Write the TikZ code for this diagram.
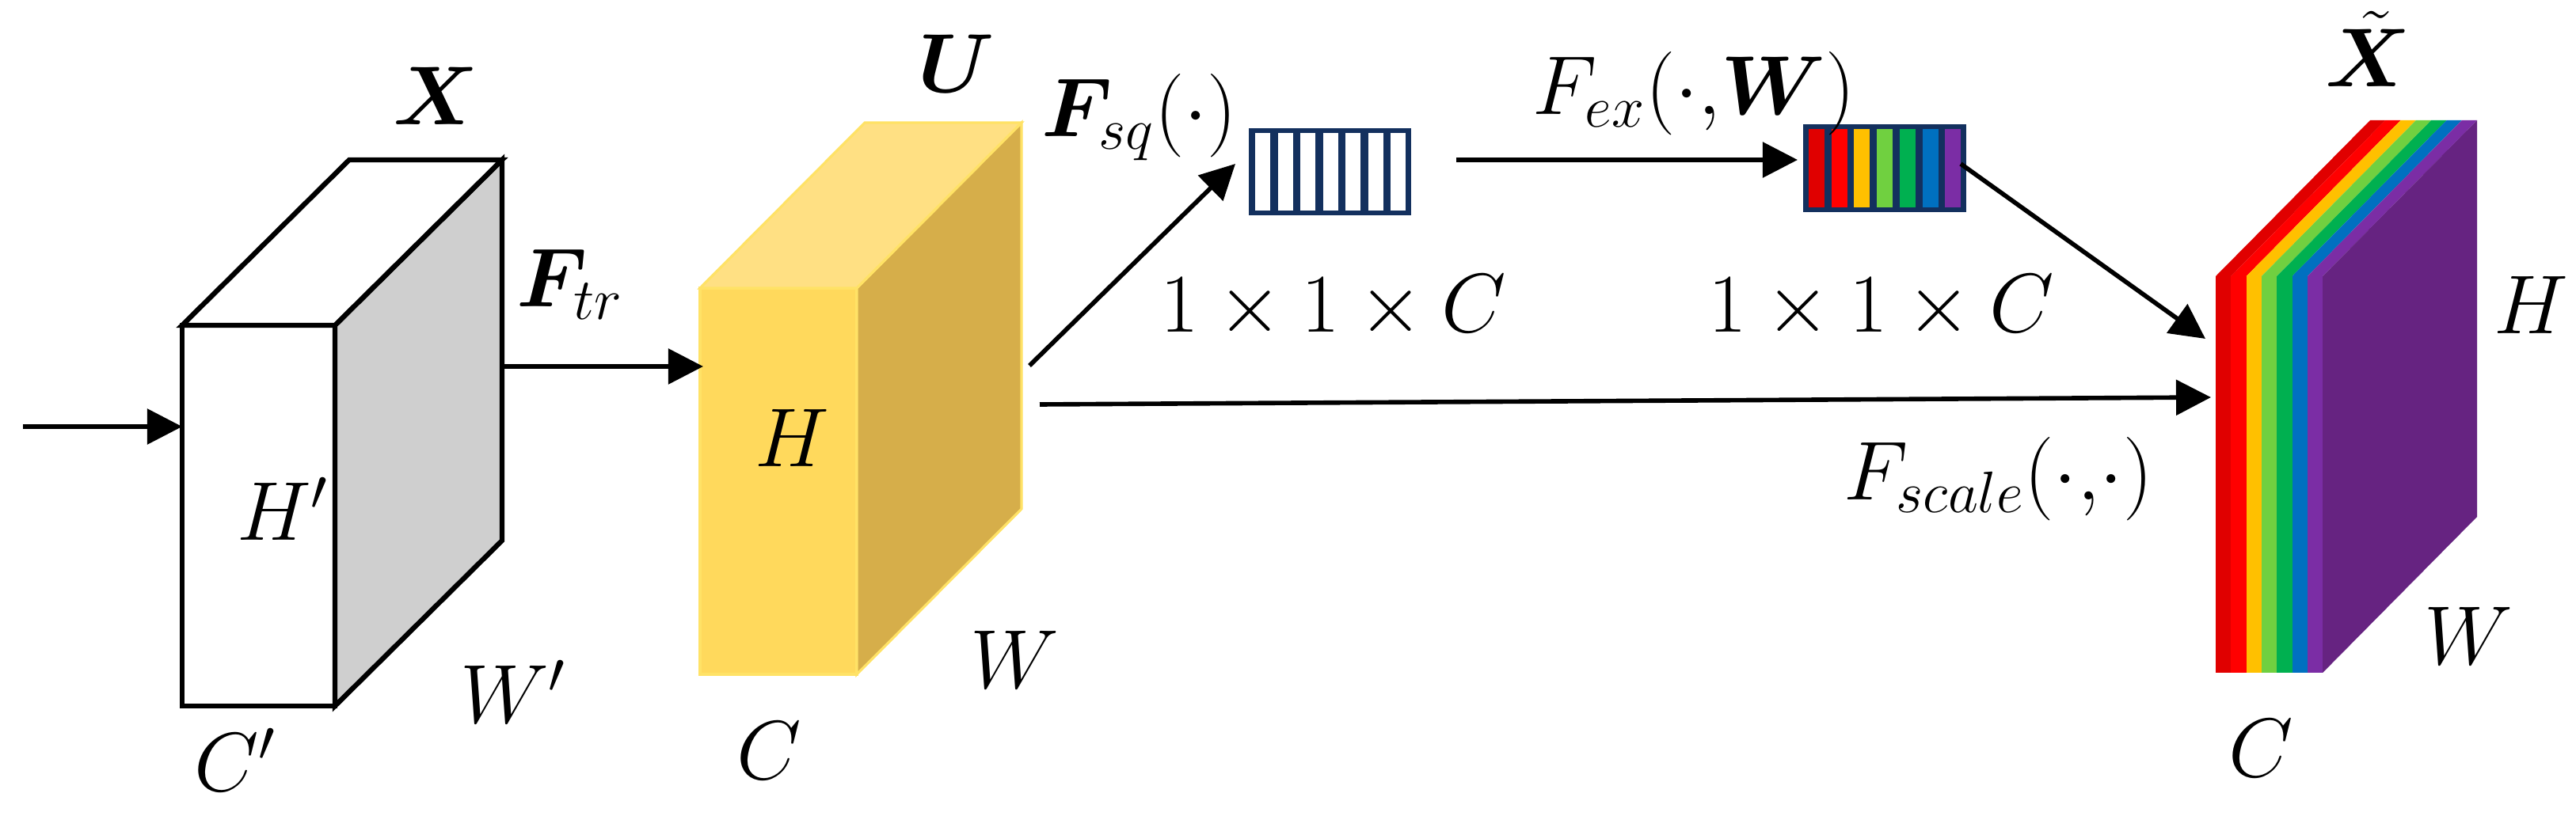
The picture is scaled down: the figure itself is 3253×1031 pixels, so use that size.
\RequirePackage{fix-cm}
\documentclass[tikz,border=0pt]{standalone}
\usepackage{amsmath,bm}
\usetikzlibrary{arrows.meta}
\definecolor{navybox}{HTML}{13305E}
\definecolor{greyside}{HTML}{CFCFCF}
\definecolor{ufront}{HTML}{FFD95C}
\definecolor{utop}{HTML}{FFE083}
\definecolor{uside}{HTML}{D6AE4A}
\definecolor{uedge}{HTML}{FFE266}
\definecolor{sdred}{HTML}{E00000}
\definecolor{sred}{HTML}{FF0000}
\definecolor{syellow}{HTML}{FFC000}
\definecolor{slgreen}{HTML}{70D040}
\definecolor{sgreen}{HTML}{00B050}
\definecolor{sblue}{HTML}{0070C0}
\definecolor{spurple}{HTML}{7B2DA5}
\definecolor{spurpleside}{HTML}{662381}
\begin{document}
\begin{tikzpicture}[x=0.01cm,y=-0.01cm,
  every node/.style={font=\fontsize{30}{36}\selectfont, inner sep=0pt, outer sep=0pt},
  arr/.style={line width=1.6pt, -{Triangle[length=0.44cm,width=0.44cm]}},
  boxline/.style={line width=1.8pt, line join=miter, draw=black},
  uline/.style={line width=0.9pt, line join=miter, draw=uedge}]
\useasboundingbox (0,0) rectangle (3253,1031);

% ---------- X box ----------
\filldraw[boxline, fill=white] (230,411) rectangle (423,892);
\filldraw[boxline, fill=greyside] (423,411) -- (634,202) -- (634,683) -- (423,892) -- cycle;
\filldraw[boxline, fill=white] (230,411) -- (441,202) -- (634,202) -- (423,411) -- cycle;
\coordinate (inStart) at (29,539);
\coordinate (Xin) at (230,539);
\coordinate (Xout) at (634,463);

% ---------- U box ----------
\filldraw[uline, fill=ufront] (884,364) rectangle (1082,852);
\filldraw[uline, fill=uside] (1082,364) -- (1290,155) -- (1290,643) -- (1082,852) -- cycle;
\filldraw[uline, fill=utop] (884,364) -- (1092,155) -- (1290,155) -- (1082,364) -- cycle;
\coordinate (Uin) at (888,463);
\coordinate (Uout1) at (1300,462);
\coordinate (Uout2) at (1313,511);

% ---------- squeeze vector ----------
\node[fill=navybox, minimum width=2.05cm, minimum height=1.10cm] (sq) at (1679.5,217) {};
\foreach \i in {0,...,6}
  \fill[white] (1585+\i*28.5,168) rectangle ++(19,98);
\coordinate (sqin) at (1560,207);
\coordinate (sqout) at (1839,202);

% ---------- excitation vector ----------
\node[fill=navybox, minimum width=2.06cm, minimum height=1.11cm] (ex) at (2380,212.5) {};
\foreach \c [count=\i from 0] in {sdred,sred,syellow,slgreen,sgreen,sblue,spurple}
  \fill[\c] (2284+\i*28.7,163) rectangle ++(20,99);
\coordinate (exin) at (2270,202);
\coordinate (exout) at (2476,207);

% ---------- X tilde stack ----------
\foreach \c [count=\i from 0] in {sdred,sred,syellow,slgreen,sgreen,sblue,spurple}{
  \fill[\c] (2798+\i*19.3,349) rectangle ++(19.3,501);
  \fill[\c] (2798+\i*19.3,349) -- ++(19.3,0) -- ++(195,-197) -- ++(-19.3,0) -- cycle;
}
\fill[spurpleside] (2933.1,349) -- (3128,152) -- (3128,653) -- (2933.1,850) -- cycle;
\coordinate (Xt1) at (2785,428);
\coordinate (Xt2) at (2792,502);

% ---------- connectors ----------
\draw[arr] (inStart) -- (Xin);
\draw[arr] (Xout) -- (Uin);
\draw[arr] (Uout1) -- (sqin);
\draw[arr] (Uout2) -- (Xt2);
\draw[arr] (sqout) -- (exin);
\draw[arr] (exout) -- (Xt1);

% ---------- labels ----------
\node (lX) at (551,121) {$\boldsymbol{X}$};
\node[anchor=base] (lHp) at (357,683) {$H'$};
\node[anchor=base] (lCp) at (297,1000) {$C'$};
\node[anchor=base] (lWp) at (648,914) {$W'$};
\node[anchor=base west] (lFtr) at (652,388) {$\boldsymbol{F}_{tr}$};

\node (lU) at (1208,80) {$\boldsymbol{U}$};
\node (lHu) at (1000,553) {$H$};
\node (lCu) at (971,948) {$C$};
\node (lWu) at (1281,833) {$W$};

\node[anchor=base west] (lFsq) at (1315,173) {$\boldsymbol{F}_{sq}(\cdot)$};
\node[anchor=base west] (lFex) at (1935,145) {$F_{ex}(\cdot{,}\boldsymbol{W})$};
\node (ldim1) at (1684,388) {$1\times1\times C$};
\node (ldim2) at (2376,388) {$1\times1\times C$};
\node[anchor=base west] (lFsc) at (2328,632) {$F_{scale}(\cdot{,}\cdot)$};

\node[anchor=base] (lXt) at (2991,110) {$\tilde{\boldsymbol{X}}$};
\node (lHt) at (3196,385) {$H$};
\node (lWt) at (3117,803) {$W$};
\node (lCt) at (2855,945) {$C$};
\end{tikzpicture}
\end{document}
